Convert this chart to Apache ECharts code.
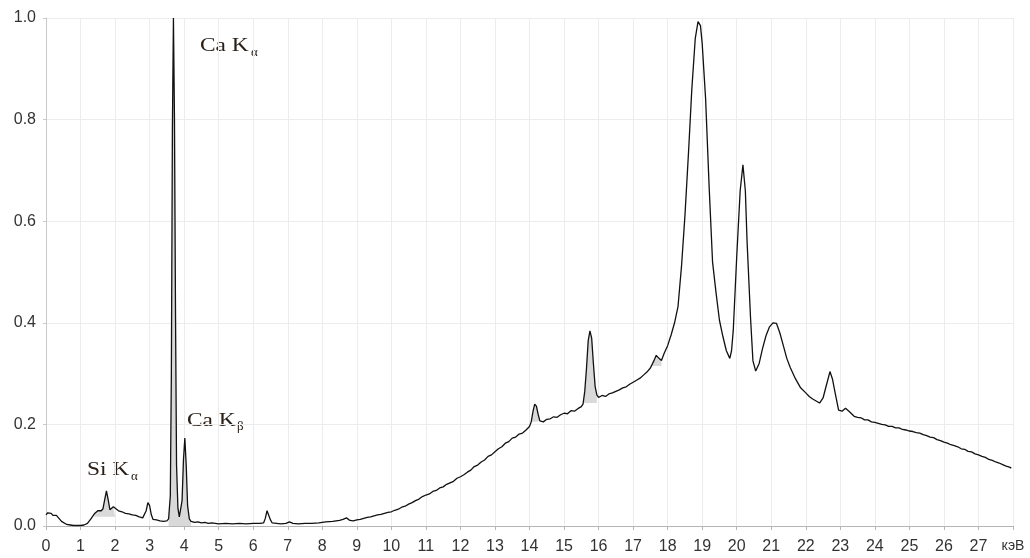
<!DOCTYPE html>
<html>
<head>
<meta charset="utf-8">
<script src="https://cdn.jsdelivr.net/npm/echarts@6/dist/echarts.min.js"></script>
<style>
  html, body { margin: 0; padding: 0; background: #fff; }
  #chart { width: 1030px; height: 558px; }
</style>
</head>
<body>
<div id="chart"></div>
<script>
// энергия, кэВ
const energy = [
  0, 0.05, 0.1, 0.15, 0.2, 0.25, 0.3, 0.35, 0.4, 0.45, 0.5, 0.6, 0.7, 0.8, 0.9, 1.0,
  1.1, 1.2, 1.3, 1.4, 1.5, 1.55, 1.6, 1.65, 1.7, 1.75, 1.8, 1.85, 1.9, 1.95, 2.0,
  2.1, 2.2, 2.3, 2.4, 2.5, 2.6, 2.7, 2.8, 2.85, 2.9, 2.95, 3.0, 3.05, 3.1, 3.2, 3.3,
  3.4, 3.5, 3.55, 3.6, 3.63, 3.66, 3.69, 3.72, 3.75, 3.78, 3.82, 3.86, 3.9, 3.94,
  3.98, 4.02, 4.06, 4.1, 4.15, 4.2, 4.3, 4.4, 4.5, 4.6, 4.7, 4.8, 4.9, 5.0, 5.2,
  5.4, 5.6, 5.8, 6.0, 6.2, 6.3, 6.35, 6.4, 6.45, 6.5, 6.55, 6.6, 6.8, 6.95, 7.05,
  7.15, 7.3, 7.5, 7.7, 7.9, 8.1, 8.3, 8.5, 8.6, 8.7, 8.8, 8.9, 9.0, 9.1, 9.2, 9.3,
  9.4, 9.5, 9.6, 9.7, 9.8, 9.9, 10.0, 10.1, 10.2, 10.3, 10.4, 10.5, 10.6, 10.7,
  10.8, 10.9, 11.0, 11.1, 11.2, 11.3, 11.4, 11.5, 11.6, 11.7, 11.8, 11.9, 12.0,
  12.1, 12.2, 12.3, 12.4, 12.5, 12.6, 12.7, 12.8, 12.9, 13.0, 13.1, 13.2, 13.3,
  13.4, 13.5, 13.6, 13.7, 13.8, 13.9, 14.0, 14.05, 14.1, 14.15, 14.2, 14.25, 14.3,
  14.4, 14.5, 14.6, 14.7, 14.8, 14.9, 15.0, 15.1, 15.2, 15.3, 15.4, 15.5, 15.55,
  15.6, 15.65, 15.7, 15.75, 15.8, 15.85, 15.9, 15.95, 16.0, 16.1, 16.2, 16.3, 16.4,
  16.5, 16.6, 16.7, 16.8, 16.9, 17.0, 17.1, 17.2, 17.3, 17.4, 17.5, 17.6, 17.67,
  17.75, 17.82, 17.9, 18.0, 18.1, 18.2, 18.3, 18.4, 18.5, 18.6, 18.7, 18.8, 18.88,
  18.95, 19.0, 19.1, 19.2, 19.3, 19.4, 19.5, 19.6, 19.7, 19.8, 19.85, 19.9, 20.0,
  20.1, 20.18, 20.25, 20.3, 20.4, 20.47, 20.55, 20.65, 20.75, 20.85, 20.95, 21.05,
  21.15, 21.25, 21.35, 21.45, 21.55, 21.7, 21.85, 22.0, 22.1, 22.2, 22.3, 22.4,
  22.5, 22.6, 22.7, 22.77, 22.85, 22.95, 23.05, 23.15, 23.25, 23.4, 23.5, 23.6,
  23.7, 23.8, 23.9, 24.0, 24.1, 24.2, 24.3, 24.4, 24.5, 24.6, 24.7, 24.8, 24.9,
  25.0, 25.1, 25.2, 25.3, 25.4, 25.5, 25.6, 25.7, 25.8, 25.9, 26.0, 26.1, 26.2,
  26.3, 26.4, 26.5, 26.6, 26.7, 26.8, 26.9, 27.0, 27.1, 27.2, 27.3, 27.4, 27.5,
  27.6, 27.7, 27.8, 27.9, 27.95
];

// нормированная интенсивность
const intensity = [
  0.022, 0.026, 0.024, 0.025, 0.021, 0.020, 0.021, 0.018, 0.013, 0.009, 0.006, 0.003, 0.002, 0.001, 0.001, 0.001,
  0.002, 0.005, 0.014, 0.024, 0.030, 0.031, 0.030, 0.034, 0.052, 0.069, 0.052, 0.032, 0.033, 0.038, 0.035,
  0.030, 0.028, 0.025, 0.024, 0.022, 0.021, 0.018, 0.016, 0.018, 0.030, 0.046, 0.040, 0.022, 0.013, 0.012, 0.010,
  0.009, 0.010, 0.014, 0.060, 0.300, 0.780, 1.000, 0.800, 0.420, 0.120, 0.035, 0.018, 0.020, 0.050,
  0.130, 0.173, 0.120, 0.040, 0.014, 0.009, 0.007, 0.008, 0.006, 0.007, 0.005, 0.006, 0.005, 0.004, 0.005,
  0.004, 0.005, 0.004, 0.005, 0.005, 0.006, 0.015, 0.030, 0.028, 0.012, 0.006, 0.004, 0.004, 0.005, 0.008,
  0.005, 0.004, 0.005, 0.005, 0.006, 0.008, 0.009, 0.011, 0.013, 0.016, 0.011, 0.010, 0.012, 0.013, 0.015, 0.017,
  0.018, 0.020, 0.022, 0.023, 0.025, 0.027, 0.028, 0.031, 0.033, 0.037, 0.039, 0.043, 0.046, 0.050,
  0.053, 0.058, 0.061, 0.063, 0.068, 0.070, 0.075, 0.077, 0.082, 0.085, 0.088, 0.094, 0.097,
  0.101, 0.106, 0.110, 0.117, 0.120, 0.126, 0.130, 0.137, 0.140, 0.146, 0.152, 0.156, 0.163,
  0.166, 0.173, 0.175, 0.181, 0.183, 0.189, 0.196, 0.205, 0.225, 0.240, 0.236, 0.220, 0.207,
  0.205, 0.210, 0.211, 0.215, 0.214, 0.219, 0.222, 0.221, 0.227, 0.226, 0.231, 0.235, 0.240,
  0.265, 0.310, 0.365, 0.384, 0.370, 0.320, 0.275, 0.258, 0.253, 0.257, 0.255, 0.260, 0.262,
  0.265, 0.268, 0.272, 0.274, 0.279, 0.283, 0.287, 0.291, 0.297, 0.303, 0.311, 0.325, 0.336,
  0.330, 0.326, 0.340, 0.355, 0.376, 0.400, 0.432, 0.510, 0.610, 0.730, 0.860, 0.960, 0.993,
  0.985, 0.950, 0.840, 0.670, 0.520, 0.460, 0.405, 0.373, 0.345, 0.330, 0.345, 0.385, 0.530,
  0.660, 0.711, 0.660, 0.560, 0.410, 0.325, 0.305, 0.320, 0.350, 0.375, 0.392, 0.400,
  0.399, 0.380, 0.355, 0.330, 0.312, 0.290, 0.272, 0.262, 0.255, 0.250, 0.246, 0.242,
  0.252, 0.278, 0.304, 0.290, 0.262, 0.228, 0.226, 0.232, 0.226, 0.216, 0.214, 0.213,
  0.209, 0.209, 0.205, 0.204, 0.202, 0.200, 0.199, 0.196, 0.196, 0.193, 0.193, 0.190, 0.189,
  0.187, 0.186, 0.184, 0.183, 0.180, 0.178, 0.175, 0.174, 0.170, 0.168, 0.165, 0.163, 0.160,
  0.158, 0.156, 0.152, 0.151, 0.147, 0.146, 0.142, 0.140, 0.137, 0.135, 0.131, 0.129, 0.126,
  0.124, 0.121, 0.118, 0.116, 0.114
];

// участки аппроксимации пиков: [от, до, фон]
const peakFits = [
  [1.4, 2.05, 0.018],
  [3.55, 4.2, 0],
  [14.05, 14.3, 0.205],
  [15.55, 15.95, 0.242],
  [17.5, 17.82, 0.315]
];

const yTicks = [0, 0.2, 0.4, 0.6, 0.8, 1.0];

const spectrum = energy.map((e, i) => [e, intensity[i]]);

const fitSeries = peakFits.map(([from, to, base]) => ({
  type: 'line',
  data: spectrum.filter(p => p[0] >= from && p[0] <= to),
  symbol: 'none',
  silent: true,
  z: 1,
  lineStyle: { width: 0 },
  areaStyle: { color: '#d9d9d9', opacity: 1, origin: base }
}));

const chart = echarts.init(document.getElementById('chart'));

const serif = 'Liberation Serif, Times New Roman, serif';
const ink = '#2a2018';

chart.setOption({
  animation: false,
  grid: { left: 46, right: 17, top: 18, bottom: 32 },
  xAxis: {
    type: 'value',
    min: 0,
    max: 28,
    interval: 1,
    axisLine: { lineStyle: { color: '#b5b5b5' } },
    axisTick: { show: true, length: 4, lineStyle: { color: '#b5b5b5' } },
    splitLine: { lineStyle: { color: '#ececec' } },
    axisLabel: {
      color: '#333',
      fontSize: 16,
      fontFamily: 'Liberation Sans, Arial, sans-serif',
      margin: 13,
      formatter: v => (v === 28 ? '{u|кэВ}' : String(v)),
      rich: { u: { fontSize: 14, color: '#333', fontFamily: 'Liberation Sans, Arial, sans-serif' } }
    }
  },
  yAxis: {
    type: 'value',
    min: 0,
    max: yTicks[yTicks.length - 1],
    interval: 0.2,
    axisLine: { show: true, lineStyle: { color: '#c8c8c8' } },
    axisTick: { show: true, length: 3, lineStyle: { color: '#c8c8c8' } },
    splitLine: { lineStyle: { color: '#ececec' } },
    axisLabel: {
      color: '#333',
      fontSize: 16,
      fontFamily: 'Liberation Sans, Arial, sans-serif',
      margin: 10,
      formatter: v => v.toFixed(1)
    }
  },
  graphic: [
    { type: 'text', x: 200, y: 37, scaleX: 1.3, style: { text: 'Ca K', font: '18px ' + serif, fill: ink } },
    { type: 'text', x: 251, y: 46, style: { text: 'α', font: '13px ' + serif, fill: ink } },
    { type: 'text', x: 187, y: 412, scaleX: 1.3, style: { text: 'Ca K', font: '18px ' + serif, fill: ink } },
    { type: 'text', x: 237, y: 420, style: { text: 'β', font: '13px ' + serif, fill: ink } },
    { type: 'text', x: 87, y: 461, scaleX: 1.3, style: { text: 'Si K', font: '18px ' + serif, fill: ink } },
    { type: 'text', x: 131, y: 470, style: { text: 'α', font: '13px ' + serif, fill: ink } }
  ],
  series: fitSeries.concat([{
    name: 'спектр',
    type: 'line',
    data: spectrum,
    symbol: 'none',
    z: 3,
    lineStyle: { color: '#111', width: 1.3 }
  }])
});
</script>
</body>
</html>
